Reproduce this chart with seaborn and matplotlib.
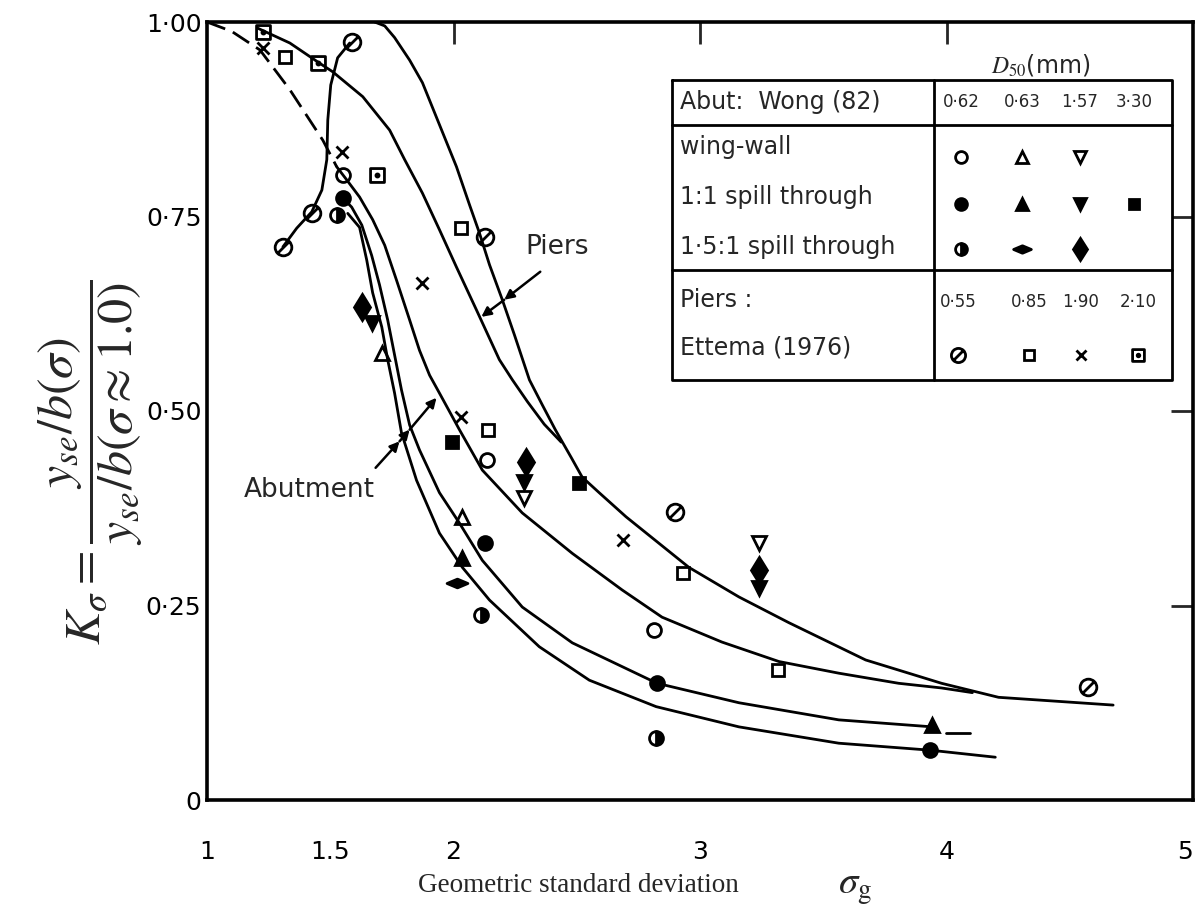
import numpy as np
import pandas as pd
import matplotlib
matplotlib.use("Agg")
import matplotlib.pyplot as plt
import seaborn as sns
from matplotlib.path import Path

# ---------------- data ----------------
# fitted curves
piers_outer_x = [1.68, 1.721, 1.761, 1.822, 1.874, 1.943, 2.012, 2.065, 2.105, 2.146, 2.198, 2.247, 2.308,
                 2.360, 2.413, 2.478, 2.522, 2.591, 2.700, 2.955, 3.158, 3.360, 3.672, 3.980, 4.211, 4.676]
piers_outer_y = [1.000, 0.995, 0.980, 0.951, 0.922, 0.868, 0.814, 0.765, 0.729, 0.688, 0.643, 0.598, 0.540,
                 0.508, 0.476, 0.440, 0.415, 0.395, 0.364, 0.299, 0.261, 0.228, 0.180, 0.150, 0.132, 0.122]
piers_inner_x = [1.206, 1.336, 1.457, 1.510, 1.632, 1.741, 1.802, 1.874, 1.943, 2.012, 2.093, 2.186, 2.239,
                 2.300, 2.368, 2.437]
piers_inner_y = [0.992, 0.973, 0.947, 0.936, 0.904, 0.861, 0.823, 0.780, 0.733, 0.685, 0.630, 0.566, 0.540,
                 0.512, 0.483, 0.460]
middle_x = [1.526, 1.567, 1.619, 1.672, 1.721, 1.769, 1.822, 1.862, 1.903, 1.943, 2.024, 2.117, 2.279, 2.482,
            2.684, 2.846, 3.089, 3.320, 3.563, 3.806, 3.980, 4.105]
middle_y = [0.814, 0.797, 0.775, 0.746, 0.713, 0.668, 0.617, 0.578, 0.546, 0.523, 0.476, 0.424, 0.369, 0.317,
            0.270, 0.235, 0.203, 0.178, 0.163, 0.150, 0.144, 0.138]
abut_upper_x = [1.551, 1.587, 1.628, 1.668, 1.700, 1.733, 1.761, 1.789, 1.822, 1.862, 1.943, 2.024, 2.117,
                2.279, 2.482, 2.826, 3.158, 3.563, 3.943]
abut_upper_y = [0.774, 0.762, 0.739, 0.700, 0.662, 0.617, 0.572, 0.527, 0.482, 0.450, 0.395, 0.356, 0.308,
                0.248, 0.202, 0.150, 0.125, 0.103, 0.094]
abut_upper_tail_x = [3.996, 4.097]
abut_upper_tail_y = [0.086, 0.086]
abut_lower_x = [1.571, 1.619, 1.648, 1.672, 1.709, 1.733, 1.761, 1.789, 1.850, 1.943, 2.036, 2.146, 2.348,
                2.551, 2.822, 3.158, 3.563, 3.935, 4.198]
abut_lower_y = [0.754, 0.736, 0.694, 0.652, 0.608, 0.566, 0.523, 0.472, 0.411, 0.343, 0.299, 0.257, 0.197,
                0.154, 0.120, 0.094, 0.073, 0.064, 0.055]
loop_x = [1.308, 1.364, 1.425, 1.466, 1.486, 1.490, 1.502, 1.530, 1.579]
loop_y = [0.711, 0.735, 0.756, 0.784, 0.823, 0.874, 0.919, 0.954, 0.973]
dashed_x = [1.0, 1.10, 1.215, 1.336, 1.470, 1.526]
dashed_y = [1.0, 0.988, 0.964, 0.913, 0.848, 0.814]

# Abutments, Wong (82)
ww062_x = [1.551, 2.134, 2.814];  ww062_y = [0.803, 0.437, 0.219]
ww083_x = [1.709, 2.036];         ww083_y = [0.575, 0.364]
ww157_x = [2.287, 3.239];         ww157_y = [0.388, 0.330]
sp062_x = [1.551, 2.126, 2.826, 3.935]; sp062_y = [0.774, 0.330, 0.150, 0.064]
sp083_x = [2.036, 3.943];         sp083_y = [0.311, 0.096]
sp157_x = [1.668, 2.287, 3.239];  sp157_y = [0.613, 0.409, 0.272]
sp330_x = [1.992, 2.510];         sp330_y = [0.460, 0.407]
ss062_x = [1.526, 2.113, 2.822];  ss062_y = [0.752, 0.238, 0.080]
ss083_x = [2.016];                ss083_y = [0.279]
ss157_x = [1.628, 2.296, 3.239];  ss157_y = [0.634, 0.434, 0.296]
# Piers, Ettema (1976)
pi055_x = [1.308, 1.425, 1.587, 2.126, 2.899, 4.575]; pi055_y = [0.711, 0.754, 0.974, 0.724, 0.370, 0.145]
pi085_x = [1.316, 2.032, 2.138, 2.931, 3.316];        pi085_y = [0.955, 0.735, 0.476, 0.292, 0.167]
pi190_x = [1.227, 1.547, 1.874, 2.032, 2.688];        pi190_y = [0.967, 0.833, 0.665, 0.492, 0.334]
pi210_x = [1.227, 1.449, 1.688];                      pi210_y = [0.987, 0.947, 0.803]

x_ticks = [1, 1.5, 2, 3, 4, 5]
x_tick_labels = ["1", "1.5", "2", "3", "4", "5"]
y_ticks = [0, 0.25, 0.5, 0.75, 1.0]
y_tick_labels = ["0", "0·25", "0·50", "0·75", "1·00"]
abut_sizes = ["0·62", "0·63", "1·57", "3·30"]
pier_sizes = ["0·55", "0·85", "1·90", "2·10"]

# ---------------- markers ----------------
M, L, C = Path.MOVETO, Path.LINETO, Path.CLOSEPOLY
slash_circle = Path.make_compound_path(Path.unit_circle(),
                                       Path([[-0.72, -0.72], [0.72, 0.72]], [M, L]))
dot_square = Path.make_compound_path(Path([[-1, -1], [1, -1], [1, 1], [-1, 1], [-1, -1]], [M, L, L, L, C]),
                                     Path.circle((0, 0), 0.22))
h_diamond = Path([[-1, 0], [0, 0.42], [1, 0], [0, -0.42], [-1, 0]], [M, L, L, L, C])

K = "black"
open_kw = dict(markerfacecolor="none", markeredgecolor=K)
fill_kw = dict(markerfacecolor=K, markeredgecolor=K)
styles = {
    "ww062": dict(marker="o", markersize=10, **open_kw),
    "ww083": dict(marker="^", markersize=10, **open_kw),
    "ww157": dict(marker="v", markersize=10, **open_kw),
    "sp062": dict(marker="o", markersize=10, **fill_kw),
    "sp083": dict(marker="^", markersize=10, **fill_kw),
    "sp157": dict(marker="v", markersize=10, **fill_kw),
    "sp330": dict(marker="s", markersize=9, **fill_kw),
    "ss062": dict(marker="o", markersize=10, fillstyle="right", markerfacecolor=K,
                  markerfacecoloralt="white", markeredgecolor=K),
    "ss083": dict(marker=h_diamond, markersize=15, **fill_kw),
    "ss157": dict(marker="d", markersize=13, **fill_kw),
    "pi055": dict(marker=slash_circle, markersize=12, **open_kw),
    "pi085": dict(marker="s", markersize=9, **open_kw),
    "pi190": dict(marker="x", markersize=9, **open_kw),
    "pi210": dict(marker=dot_square, markersize=10, **open_kw),
}
series = {
    "ww062": (ww062_x, ww062_y), "ww083": (ww083_x, ww083_y), "ww157": (ww157_x, ww157_y),
    "sp062": (sp062_x, sp062_y), "sp083": (sp083_x, sp083_y), "sp157": (sp157_x, sp157_y),
    "sp330": (sp330_x, sp330_y), "ss062": (ss062_x, ss062_y), "ss083": (ss083_x, ss083_y),
    "ss157": (ss157_x, ss157_y), "pi055": (pi055_x, pi055_y), "pi085": (pi085_x, pi085_y),
    "pi190": (pi190_x, pi190_y), "pi210": (pi210_x, pi210_y),
}

# ---------------- figure ----------------
sns.set_style("white")
plt.rcParams["font.family"] = ["DejaVu Sans"]
plt.rcParams["mathtext.fontset"] = "stix"

W, H = 1198, 916
fig = plt.figure(figsize=(W / 100, H / 100), dpi=100)
ax = fig.add_axes([207 / W, (H - 800) / H, 986 / W, 778 / H])
ax.set_xlim(1, 5)
ax.set_ylim(0, 1)

LW = 2.0
def curve(x, y, **kw):
    sns.lineplot(x=x, y=y, estimator=None, sort=False, color=K, linewidth=LW,
                 legend=False, ax=ax, **kw)

curve(piers_outer_x, piers_outer_y)
curve(piers_inner_x, piers_inner_y)
curve(middle_x, middle_y)
curve(abut_upper_x, abut_upper_y)
curve(abut_upper_tail_x, abut_upper_tail_y)
curve(abut_lower_x, abut_lower_y)
curve(loop_x, loop_y)
curve(dashed_x, dashed_y, linestyle=(0, (7, 3)))

for key, (xs, ys) in series.items():
    sns.lineplot(x=xs, y=ys, estimator=None, sort=False, linestyle="none", color=K,
                 markeredgewidth=2.0, legend=False, ax=ax, clip_on=False, **styles[key])

# annotations with arrows
arrow = dict(arrowstyle="-|>", color=K, lw=1.8, mutation_scale=14, shrinkA=0, shrinkB=0)
ax.text(2.29, 0.711, "Piers", fontsize=19, ha="left", va="center")
ax.annotate("", xy=(2.206, 0.643), xytext=(2.352, 0.679), arrowprops=arrow)
ax.annotate("", xy=(2.113, 0.621), xytext=(2.206, 0.643), arrowprops=arrow)
ax.text(1.15, 0.398, "Abutment", fontsize=19, ha="left", va="center")
ax.annotate("", xy=(1.781, 0.461), xytext=(1.684, 0.427), arrowprops=arrow)
ax.annotate("", xy=(1.822, 0.476), xytext=(1.781, 0.461), arrowprops=arrow)
ax.annotate("", xy=(1.931, 0.517), xytext=(1.822, 0.476), arrowprops=arrow)

# axes, ticks
for s in ax.spines.values():
    s.set_linewidth(2.6)
    s.set_color(K)
ax.set_xticks(x_ticks)
ax.set_xticklabels(x_tick_labels)
ax.set_yticks(y_ticks)
ax.set_yticklabels(y_tick_labels)
ax.tick_params(axis="x", direction="in", length=14, width=2, pad=29, labelsize=18, colors=K)
ax.tick_params(axis="y", direction="in", length=14, width=2, pad=4, labelsize=18, colors=K)
ax.get_xticklabels()[-1].set_horizontalalignment("right")
ax.set_xlabel("")
ax.set_ylabel("")
top = ax.secondary_xaxis("top")
top.set_xticks([2, 3, 4])
top.set_xticklabels([])
top.tick_params(direction="in", length=16, width=2)
top.spines["top"].set_visible(False)
right = ax.secondary_yaxis("right")
right.set_yticks([0.25, 0.5, 0.75])
right.set_yticklabels([])
right.tick_params(direction="in", length=16, width=2)
right.spines["right"].set_visible(False)

# legend table (axes coordinates)
tr = ax.transAxes
Lx, Rx, Dx = 0.472, 0.979, 0.737
Ty, H1, H2, By = 0.925, 0.868, 0.681, 0.540
tbl = dict(color=K, lw=2.0, transform=tr, clip_on=False)
ax.plot([Lx, Rx, Rx, Lx, Lx], [Ty, Ty, By, By, Ty], **tbl)
ax.plot([Lx, Rx], [H1, H1], **tbl)
ax.plot([Lx, Rx], [H2, H2], **tbl)
ax.plot([Dx, Dx], [Ty, By], **tbl)
ax.add_patch(plt.Rectangle((Lx, By), Rx - Lx, Ty - By, transform=tr, facecolor="white",
                           edgecolor="none", zorder=1.5))

ax.text(0.845, 0.945, r"$D_{50}$(mm)", fontsize=17, ha="center", va="center", transform=tr)
row_txt = dict(fontsize=17, ha="left", va="center", transform=tr)
ax.text(0.480, 0.897, "Abut:  Wong (82)", **row_txt)
ax.text(0.480, 0.839, "wing-wall", **row_txt)
ax.text(0.480, 0.775, "1:1 spill through", **row_txt)
ax.text(0.480, 0.711, "1·5:1 spill through", **row_txt)
ax.text(0.480, 0.643, "Piers :", **row_txt)
ax.text(0.480, 0.581, "Ettema (1976)", **row_txt)

abut_cols = [0.765, 0.827, 0.885, 0.940]
pier_cols = [0.762, 0.834, 0.886, 0.944]
for cx, lab in zip(abut_cols, abut_sizes):
    ax.text(cx, 0.897, lab, fontsize=12, ha="center", va="center", transform=tr)
for cx, lab in zip(pier_cols, pier_sizes):
    ax.text(cx, 0.640, lab, fontsize=12, ha="center", va="center", transform=tr)

def legend_mark(key, cx, cy):
    st = dict(styles[key])
    st["markersize"] = st["markersize"] * 0.85
    ax.plot([cx], [cy], linestyle="none", markeredgewidth=2.0, transform=tr,
            clip_on=False, zorder=3, **st)

for key, cx in zip(["ww062", "ww083", "ww157"], abut_cols):
    legend_mark(key, cx, 0.826)
for key, cx in zip(["sp062", "sp083", "sp157", "sp330"], abut_cols):
    legend_mark(key, cx, 0.766)
for key, cx in zip(["ss062", "ss083", "ss157"], abut_cols):
    legend_mark(key, cx, 0.708)
for key, cx in zip(["pi055", "pi085", "pi190", "pi210"], pier_cols):
    legend_mark(key, cx, 0.572)

# axis titles
fig.text(418 / W, 1 - 886 / H, "Geometric standard deviation", fontsize=19.5,
         family=["Liberation Serif"], ha="left", va="center")
fig.text(838 / W, 1 - 888 / H, r"$\sigma_{\rm g}$", fontsize=28, ha="left", va="center")
fig.text(90 / W, 1 - 462 / H,
         r"$K_\sigma=\dfrac{y_{se}/b(\sigma)}{y_{se}/b(\sigma\approx 1.0)}$",
         fontsize=36, rotation=90, ha="center", va="center")

fig.savefig("out.png", dpi=100)
